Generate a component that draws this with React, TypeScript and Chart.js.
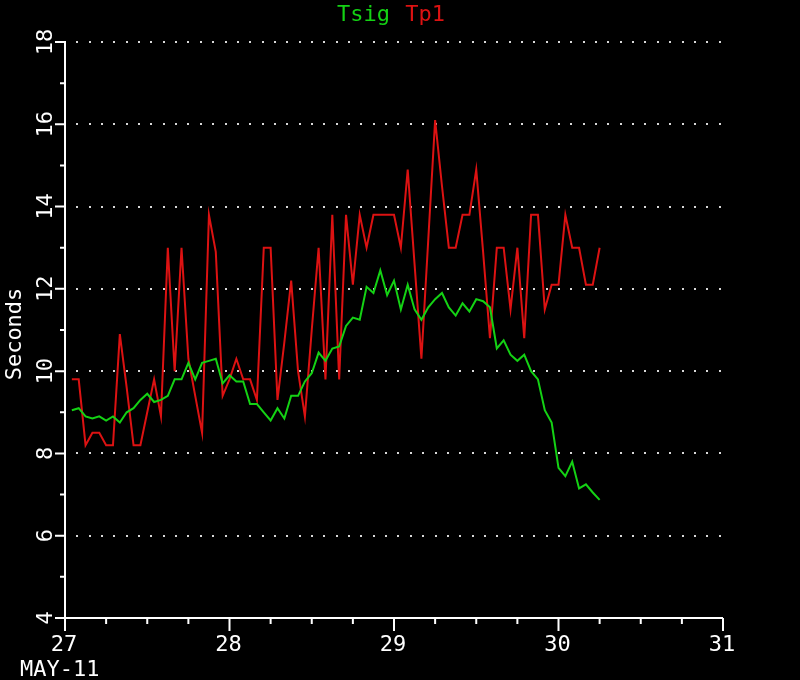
import React, { useEffect, useRef } from "react";
import { Chart, registerables } from "chart.js";

Chart.register(...registerables);

// ---- data (hourly, hours after 27 May 00:00) ----
const startDay = 27;
const hours = [
  1, 2, 3, 4, 5, 6, 7, 8, 9, 10, 11, 12, 13, 14, 15, 16, 17, 18, 19, 20,
  21, 22, 23, 24, 25, 26, 27, 28, 29, 30, 31, 32, 33, 34, 35, 36, 37, 38, 39, 40,
  41, 42, 43, 44, 45, 46, 47, 48, 49, 50, 51, 52, 53, 54, 55, 56, 57, 58, 59, 60,
  61, 62, 63, 64, 65, 66, 67, 68, 69, 70, 71, 72, 73, 74, 75, 76, 77, 78,
];
const tsig = [
  9.05, 9.1, 8.9, 8.85, 8.9, 8.8, 8.9, 8.75, 9.0, 9.1,
  9.3, 9.45, 9.25, 9.3, 9.4, 9.8, 9.8, 10.2, 9.8, 10.2,
  10.25, 10.3, 9.7, 9.9, 9.75, 9.75, 9.2, 9.2, 9.0, 8.8,
  9.1, 8.85, 9.4, 9.4, 9.75, 9.95, 10.45, 10.25, 10.55, 10.6,
  11.1, 11.3, 11.25, 12.05, 11.9, 12.45, 11.85, 12.2, 11.5, 12.1,
  11.5, 11.25, 11.55, 11.75, 11.9, 11.55, 11.35, 11.65, 11.45, 11.75,
  11.7, 11.55, 10.55, 10.75, 10.4, 10.25, 10.4, 10.0, 9.8, 9.05,
  8.75, 7.65, 7.45, 7.8, 7.15, 7.25, 7.05, 6.87,
];
const tp1 = [
  9.8, 9.8, 8.2, 8.5, 8.5, 8.2, 8.2, 10.9, 9.6, 8.2,
  8.2, 9.0, 9.8, 8.9, 13.0, 10.0, 13.0, 10.3, 9.4, 8.5,
  13.8, 12.9, 9.4, 9.8, 10.3, 9.8, 9.8, 9.3, 13.0, 13.0,
  9.3, 10.7, 12.2, 10.0, 8.9, 11.0, 13.0, 9.8, 13.8, 9.8,
  13.8, 12.1, 13.8, 13.0, 13.8, 13.8, 13.8, 13.8, 13.0, 14.9,
  12.6, 10.3, 13.2, 16.1, 14.5, 13.0, 13.0, 13.8, 13.8, 14.9,
  12.9, 10.8, 13.0, 13.0, 11.5, 13.0, 10.8, 13.8, 13.8, 11.5,
  12.1, 12.1, 13.8, 13.0, 13.0, 12.1, 12.1, 13.0,
];
const seriesNames = ["Tsig", "Tp1"];
const xTickDays = [27, 28, 29, 30, 31];
const xTickLabels = ["27", "28", "29", "30", "31"];
const xMinorDays = [27.25, 27.5, 27.75, 28.25, 28.5, 28.75, 29.25, 29.5, 29.75, 30.25, 30.5, 30.75];
const yTickValues = [4, 6, 8, 10, 12, 14, 16, 18];
const yTickLabels = ["4", "6", "8", "10", "12", "14", "16", "18"];
const yMinorValues = [5, 7, 9, 11, 13, 15, 17];
const yGridValues = [6, 8, 10, 12, 14, 16, 18];
const yTitle = "Seconds";
const dateLabel = "MAY-11";

const GREEN = "#14d214";
const RED = "#dc1212";
const FONT = '22px "DejaVu Sans Mono", "Liberation Mono", monospace';

const decorPlugin = {
  id: "decor",
  beforeDraw(chart: any) {
    const ctx = chart.ctx;
    ctx.save();
    ctx.fillStyle = "#000";
    ctx.fillRect(0, 0, chart.width, chart.height);
    ctx.restore();
  },
  beforeDatasetsDraw(chart: any) {
    const ctx = chart.ctx;
    const xs = chart.scales.x;
    const ys = chart.scales.y;
    const left = xs.getPixelForValue(27);
    const right = xs.getPixelForValue(31);
    ctx.save();
    ctx.fillStyle = "#d8d8d8";
    const step = 12.35;
    for (const v of yGridValues) {
      const y = Math.round(ys.getPixelForValue(v));
      for (let x = left + step; x < right - 2; x += step) {
        ctx.fillRect(Math.round(x) - 1, y - 1, 2, 2);
      }
    }
    ctx.restore();
  },
  afterDatasetsDraw(chart: any) {
    const ctx = chart.ctx;
    const xs = chart.scales.x;
    const ys = chart.scales.y;
    const left = xs.getPixelForValue(27);
    const right = xs.getPixelForValue(31);
    const top = ys.getPixelForValue(18);
    const bottom = ys.getPixelForValue(4);
    ctx.save();
    ctx.strokeStyle = "#ffffff";
    ctx.lineWidth = 2;
    ctx.lineCap = "butt";
    ctx.beginPath();
    ctx.moveTo(left, top - 1);
    ctx.lineTo(left, bottom);
    ctx.lineTo(right, bottom);
    ctx.stroke();
    // y ticks
    ctx.beginPath();
    for (const v of yTickValues) {
      const y = ys.getPixelForValue(v);
      ctx.moveTo(left - 10, y);
      ctx.lineTo(left, y);
    }
    for (const v of yMinorValues) {
      const y = ys.getPixelForValue(v);
      ctx.moveTo(left - 5, y);
      ctx.lineTo(left, y);
    }
    // x ticks
    for (const d of xTickDays) {
      const x = xs.getPixelForValue(d);
      ctx.moveTo(x, bottom);
      ctx.lineTo(x, bottom + 13);
    }
    for (const d of xMinorDays) {
      const x = xs.getPixelForValue(d);
      ctx.moveTo(x, bottom);
      ctx.lineTo(x, bottom + 6);
    }
    ctx.stroke();

    ctx.fillStyle = "#ffffff";
    ctx.font = FONT;
    // x labels
    ctx.textAlign = "center";
    ctx.textBaseline = "alphabetic";
    xTickDays.forEach((d, i) => {
      const x = xs.getPixelForValue(d);
      ctx.fillText(xTickLabels[i], x - 1, bottom + 33);
    });
    // date label
    ctx.textAlign = "left";
    ctx.fillText(dateLabel, 20, bottom + 58);
    // y labels (rotated)
    yTickValues.forEach((v, i) => {
      const y = ys.getPixelForValue(v);
      ctx.save();
      ctx.translate(left - 13, y);
      ctx.rotate(-Math.PI / 2);
      ctx.textAlign = "center";
      ctx.fillText(yTickLabels[i], 0, 0);
      ctx.restore();
    });
    // y title
    ctx.save();
    ctx.translate(21, (top + bottom) / 2 + 4);
    ctx.rotate(-Math.PI / 2);
    ctx.textAlign = "center";
    ctx.fillText(yTitle, 0, 0);
    ctx.restore();
    // title legend
    ctx.textAlign = "left";
    const tx = 337;
    ctx.fillStyle = GREEN;
    ctx.fillText(seriesNames[0], tx, 21);
    const w = ctx.measureText(seriesNames[0] + " ").width;
    ctx.fillStyle = RED;
    ctx.fillText(seriesNames[1], tx + w + 2, 21);
    ctx.restore();
  },
};

export default function App() {
  const ref = useRef<HTMLCanvasElement | null>(null);
  useEffect(() => {
    if (!ref.current) return;
    const toPoints = (vals: number[]) =>
      hours.map((h, i) => ({ x: startDay + h / 24, y: vals[i] }));
    const chart = new Chart(ref.current, {
      type: "line",
      data: {
        datasets: [
          {
            label: seriesNames[0],
            data: toPoints(tsig),
            borderColor: GREEN,
            borderWidth: 2,
            pointRadius: 0,
            tension: 0,
            fill: false,
          },
          {
            label: seriesNames[1],
            data: toPoints(tp1),
            borderColor: RED,
            borderWidth: 2,
            pointRadius: 0,
            tension: 0,
            fill: false,
          },
        ],
      },
      options: {
        responsive: false,
        animation: false,
        devicePixelRatio: 1,
        layout: { padding: { left: 65, top: 42, right: 77, bottom: 62 } },
        plugins: { legend: { display: false }, tooltip: { enabled: false } },
        scales: {
          x: { type: "linear", min: 27, max: 31, display: false },
          y: { type: "linear", min: 4, max: 18, display: false },
        },
      },
      plugins: [decorPlugin],
    });
    return () => chart.destroy();
  }, []);
  return (
    <div style={{ position: "fixed", left: 0, top: 0, width: 800, height: 680, background: "#000" }}>
      <canvas ref={ref} width={800} height={680} style={{ display: "block" }} />
    </div>
  );
}
